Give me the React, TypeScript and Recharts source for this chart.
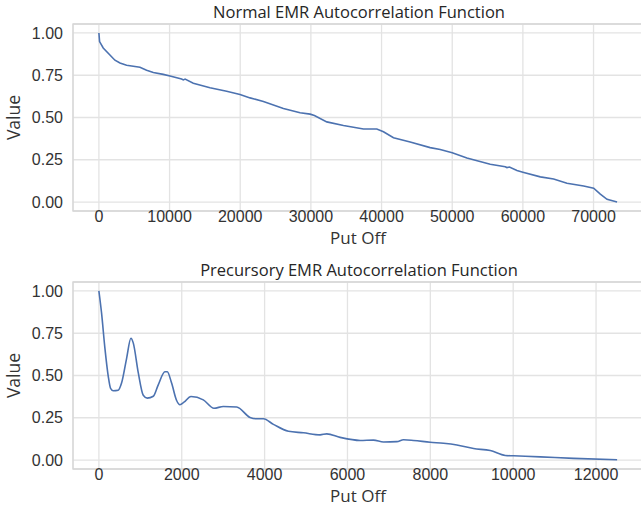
import React from "react"
import { LineChart, Line, XAxis, YAxis, CartesianGrid, ReferenceArea } from "recharts"

// Normal EMR autocorrelation
const normalLag = [
  0, 95, 610, 1560, 2270, 2980, 3920, 5810, 6750, 7700, 9110, 10060, 11700, 11950, 12200,
  13360, 15720, 18080, 19970, 21400, 23280, 26110, 28470, 29890, 30500, 32250, 34610,
  37440, 39330, 40270, 41690, 44050, 46880, 48300, 50000, 52080, 55380, 57500, 57750,
  58100, 59160, 60000, 62470, 64350, 66240, 68600, 70020, 70960, 71910, 73330,
]
const normalValue = [
  1.0, 0.949, 0.911, 0.87, 0.839, 0.822, 0.809, 0.797, 0.78, 0.766, 0.755, 0.745, 0.728, 0.722, 0.727,
  0.703, 0.676, 0.655, 0.636, 0.616, 0.595, 0.553, 0.528, 0.52, 0.512, 0.474, 0.453,
  0.432, 0.432, 0.416, 0.38, 0.355, 0.322, 0.311, 0.291, 0.261, 0.224, 0.209, 0.204,
  0.207, 0.186, 0.176, 0.149, 0.136, 0.111, 0.095, 0.082, 0.047, 0.016, 0.0,
]
const normalTicks = [0, 10000, 20000, 30000, 40000, 50000, 60000, 70000]

// Precursory EMR autocorrelation
const precLag = [
  0, 64, 145, 225, 282, 346, 467, 547, 668, 773, 829, 950, 1071, 1168, 1313, 1433, 1594,
  1651, 1755, 1876, 1957, 2053, 2223, 2520, 2778, 3004, 3326, 3648, 3809, 3970, 4212,
  4574, 4937, 5339, 5500, 5822, 6306, 6628, 6870, 7192, 7353, 7594, 7997, 8319, 8641,
  9044, 9447, 9809, 10010, 10655, 11460, 12508,
]
const precValue = [
  1.0, 0.87, 0.662, 0.497, 0.424, 0.41, 0.413, 0.455, 0.6, 0.72, 0.693, 0.517, 0.383, 0.366,
  0.377, 0.445, 0.522, 0.522, 0.455, 0.352, 0.327, 0.342, 0.376, 0.356, 0.306, 0.317, 0.314,
  0.252, 0.244, 0.244, 0.211, 0.17, 0.161, 0.149, 0.155, 0.134, 0.116, 0.118, 0.107, 0.109,
  0.12, 0.116, 0.105, 0.099, 0.089, 0.068, 0.056, 0.027, 0.025, 0.019, 0.01, 0.002,
]
const precTicks = [0, 2000, 4000, 6000, 8000, 10000, 12000]

const valueTicks = [0, 0.25, 0.5, 0.75, 1.0]

const BLUE = "#4C72B0"
const GRID = "#e3e3e3"
const TEXT = "#333333"
const FONT = "'Liberation Sans', Arial, sans-serif"
const LABEL_FONT = "'Open Sans', sans-serif"

const toRows = (xs: number[], ys: number[]) => xs.map((x, i) => ({ lag: x, value: ys[i] }))

interface PanelProps {
  title: string
  data: { lag: number; value: number }[]
  xDomain: [number, number]
  xTicks: number[]
  top: number
  curve: "linear" | "monotone"
}

function Panel({ title, data, xDomain, xTicks, top, curve }: PanelProps) {
  const yDomain: [number, number] = [-0.053, 1.053]
  return (
    <div style={{ position: "absolute", left: 0, top, width: 660, height: 253 }}>
      <div
        style={{
          position: "absolute",
          left: 73,
          width: 572,
          top: 1,
          textAlign: "center",
          fontFamily: LABEL_FONT,
          fontSize: 16.5,
          lineHeight: "21px",
          color: "#262626",
        }}
      >
        {title}
      </div>
      <LineChart
        width={660}
        height={253}
        data={data}
        margin={{ top: 24, right: 17, left: 9, bottom: 22 }}
      >
        <CartesianGrid stroke={GRID} strokeWidth={1.3} />
        <ReferenceArea
          x1={xDomain[0]}
          x2={xDomain[1]}
          y1={yDomain[0]}
          y2={yDomain[1]}
          fill="none"
          stroke="#d6d6d6"
          strokeWidth={1.3}
          ifOverflow="extendDomain"
        />
        <XAxis
          dataKey="lag"
          type="number"
          domain={xDomain}
          ticks={xTicks}
          allowDataOverflow
          axisLine={false}
          tickLine={false}
          tickSize={0}
          tickMargin={0}
          height={20}
          tick={{ fill: TEXT, fontSize: 16, fontFamily: FONT }}
          label={{
            value: "Put Off",
            position: "bottom",
            offset: 1,
            style: { fill: TEXT, fontSize: 17, fontFamily: LABEL_FONT },
          }}
        />
        <YAxis
          type="number"
          domain={yDomain}
          ticks={valueTicks}
          allowDataOverflow
          axisLine={false}
          tickLine={false}
          tickSize={0}
          tickMargin={10}
          width={64}
          tickFormatter={(v: number) => v.toFixed(2)}
          tick={{ fill: TEXT, fontSize: 16, fontFamily: FONT }}
          label={{
            value: "Value",
            angle: -90,
            position: "insideLeft",
            offset: 5,
            style: { fill: TEXT, fontSize: 17.5, fontFamily: LABEL_FONT, textAnchor: "middle" },
          }}
        />
        <Line
          type={curve}
          dataKey="value"
          stroke={BLUE}
          strokeWidth={1.6}
          dot={false}
          isAnimationActive={false}
        />
      </LineChart>
    </div>
  )
}

export default function App() {
  return (
    <div
      style={{
        position: "absolute",
        left: 0,
        top: 0,
        width: 641,
        height: 506,
        overflow: "hidden",
        background: "#fff",
      }}
    >
      <Panel
        title="Normal EMR Autocorrelation Function"
        data={toRows(normalLag, normalValue)}
        xDomain={[-3666, 77000]}
        xTicks={normalTicks}
        top={0}
        curve="linear"
      />
      <Panel
        title="Precursory EMR Autocorrelation Function"
        data={toRows(precLag, precValue)}
        xDomain={[-625, 13133]}
        xTicks={precTicks}
        top={258}
        curve="monotone"
      />
    </div>
  )
}
